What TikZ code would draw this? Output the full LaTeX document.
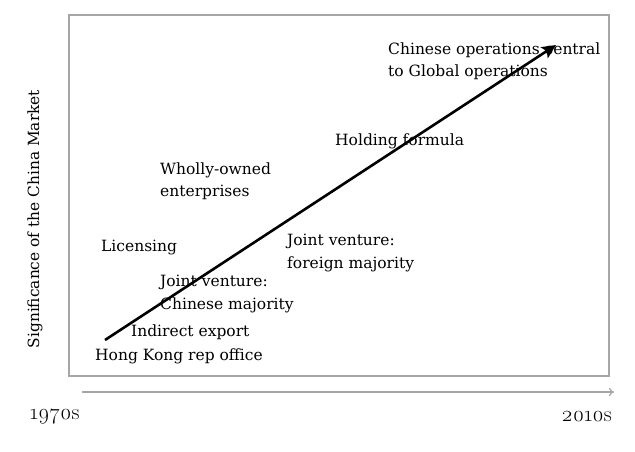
\documentclass[tikz,border=0pt]{standalone}
\usepackage{fontspec}
\setmainfont{DejaVu Serif}
\newfontfamily\osnum{Latin Modern Roman}[Numbers=OldStyle]
\usetikzlibrary{arrows.meta}
\begin{document}
\begin{tikzpicture}[x=1pt,y=-1pt,
  lbl/.style={anchor=west,align=left,inner sep=0pt,font=\fontsize{15.5}{22.5}\selectfont},
  ax/.style={font=\fontsize{15.4}{19}\selectfont,inner sep=0pt},
  tick/.style={inner sep=0pt,font=\osnum\fontsize{22}{24}\selectfont}]
\useasboundingbox (0,0) rectangle (635,451);
\draw[gray!70,line width=1.2pt] (69,15) rectangle (609,376);
\coordinate (a0) at (82,392);
\coordinate (a1) at (614,392);
\draw[gray!70,line width=1.2pt,-{To[length=5pt,width=8pt]}] (a0) -- (a1);
\node[tick,anchor=west] (t0) at (30,417) {1970s};
\node[tick,anchor=east] (t1) at (612,417) {2010s};
\node[ax,rotate=90] (yl) at (35,219) {Significance of the China Market};
\node[lbl] (n1) at (388,61) {Chinese operations central\\to Global operations};
\node[lbl] (n2) at (335,141) {Holding formula};
\node[lbl] (n3) at (160,181) {Wholly-owned\\enterprises};
\node[lbl] (n4) at (101,248) {Licensing};
\node[lbl] (n5) at (287,253) {Joint venture:\\foreign majority};
\node[lbl] (n6) at (160,294) {Joint venture:\\Chinese majority};
\node[lbl] (n7) at (131,332) {Indirect export};
\node[lbl] (n8) at (95,356) {Hong Kong rep office};
\coordinate (s) at (105,340);
\coordinate (e) at (556,45);
\draw[line width=2.6pt,-{Stealth[length=14pt,width=13pt,inset=3pt]}] (s) -- (e);
\end{tikzpicture}
\end{document}
